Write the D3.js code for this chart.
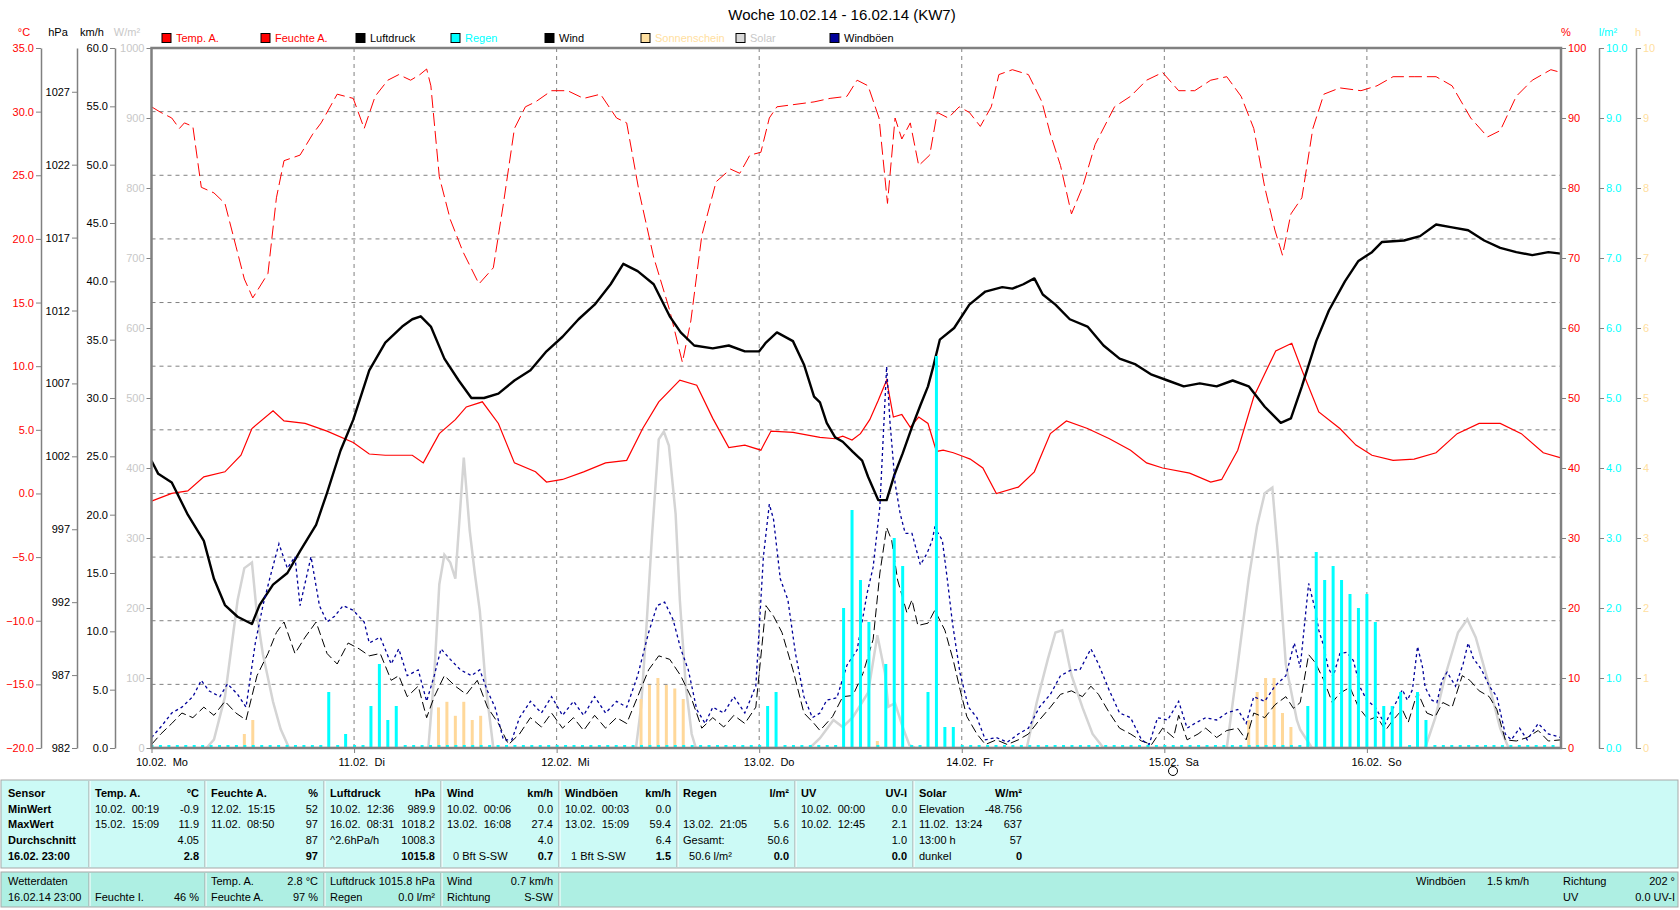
<!DOCTYPE html>
<html><head><meta charset="utf-8">
<script src="https://cdn.jsdelivr.net/npm/d3@7"></script>
<style>
body{margin:0;background:#fff;}
svg text{font-family:"Liberation Sans",Arial,sans-serif;font-size:11px;white-space:pre;}
</style></head><body>
<svg id="c" width="1680" height="910"></svg>
<script>
// ---------- DATA (hour offset from 10.02.14 00:00, value) ----------
const titleText = "Woche 10.02.14 - 16.02.14 (KW7)";
const dayTicks = [0, 24, 48, 72, 96, 120, 144];
const dayLabels = ["10.02.  Mo","11.02.  Di","12.02.  Mi","13.02.  Do","14.02.  Fr","15.02.  Sa","16.02.  So"];
const tempTicks = [-20,-15,-10,-5,0,5,10,15,20,25,30,35];
const hpaTicks = [982,987,992,997,1002,1007,1012,1017,1022,1027];
const kmhTicks = [0,5,10,15,20,25,30,35,40,45,50,55,60];
const solarTicks = [0,100,200,300,400,500,600,700,800,900,1000];
const humTicks = [0,10,20,30,40,50,60,70,80,90,100];
const rainTicks = [0,1,2,3,4,5,6,7,8,9,10];
const sunTicks = [0,1,2,3,4,5,6,7,8,9,10];

const tempSeries = [[0,-0.6],[2.4,0.0],[4.3,0.2],[6.2,1.3],[8.7,1.7],[10.6,3.0],[11.9,5.1],[14.4,6.5],[15.7,5.7],[18.2,5.5],[20.8,4.9],[23.9,4.0],[25.8,3.1],[27.7,3.0],[30.9,3.0],[32.2,2.4],[34.1,4.7],[36.0,5.8],[37.3,6.8],[39.2,7.2],[41.1,5.5],[43.0,2.4],[45.5,1.7],[46.8,0.9],[48.7,1.1],[51.2,1.7],[53.8,2.4],[56.3,2.6],[58.2,5.1],[60.1,7.2],[62.6,8.9],[64.6,8.5],[66.5,5.9],[68.4,3.6],[70.3,3.8],[72.2,3.4],[73.4,4.9],[76.0,4.8],[79.2,4.4],[81.0,4.3],[81.9,4.5],[83.0,4.2],[84.0,4.7],[85.1,5.8],[86.1,7.3],[87.1,8.9],[87.9,6.0],[88.9,6.2],[89.9,5.2],[90.9,6.0],[92.0,5.5],[93.0,3.3],[93.8,3.4],[95.0,3.2],[96.2,2.9],[97.0,2.7],[98.5,2.0],[100.1,0.0],[102.7,0.5],[104.6,1.7],[106.5,4.7],[108.4,5.7],[110.9,5.1],[113.5,4.3],[116.0,3.4],[117.9,2.4],[119.8,2.0],[123.0,1.6],[125.5,0.9],[126.8,1.1],[128.7,3.4],[130.6,7.6],[133.2,11.2],[135.1,11.8],[136.3,9.7],[138.3,6.4],[140.8,5.1],[142.7,3.8],[144.6,3.0],[147.1,2.6],[149.6,2.7],[152.2,3.2],[154.7,4.7],[157.3,5.5],[159.8,5.5],[162.3,4.7],[164.9,3.2],[167,2.8]];

const humSeries = [[0,91.6],[1.1,90.8],[2.4,90],[3.3,88.5],[3.9,89.3],[4.9,88.8],[5.9,80.1],[7.4,79.3],[8.7,77.8],[10.0,71.7],[11.0,67],[12.0,64.3],[13.8,67.8],[14.8,78.6],[15.7,83.9],[17.6,84.7],[19.1,87.7],[20.1,89.3],[22.0,93.4],[23.9,92.8],[25.2,88.5],[26.5,93.1],[28.0,95.4],[29.3,96.2],[30.7,95.4],[31.8,96.2],[32.6,97],[33.1,94.6],[34.1,81.6],[35.4,75.5],[36.9,70.9],[38.8,66.3],[40.5,68.6],[41.7,77.8],[43.0,88.5],[44.3,91.6],[45.5,92.3],[47.4,93.9],[49.3,93.9],[51.2,92.8],[53.2,93.4],[55.1,90],[56.3,89.3],[57.8,79.3],[59.5,70.1],[61.4,62.5],[62.9,55.1],[63.9,61],[65.2,73.2],[66.9,80.9],[68.6,82.7],[69.7,82.1],[70.9,84.7],[72.2,85.1],[73.2,90],[74.1,91.6],[76.0,91.9],[78.5,92.3],[80.4,92.8],[82.4,93.1],[83.6,95.4],[84.9,94.6],[86.2,90],[87.2,77.8],[88.1,90],[88.9,87],[89.9,89.3],[90.9,83.2],[92.2,84.7],[93.1,90.8],[94.4,90],[95.7,91.6],[96.9,90.8],[98.2,88.8],[99.5,91.6],[100.4,96.2],[102.0,96.9],[103.9,96.2],[105.5,92.3],[106.5,87.7],[107.7,83.2],[109.0,76.3],[110.3,80.1],[111.8,86.2],[114.1,91.6],[116.0,93.1],[117.9,95.4],[119.8,96.5],[121.7,93.9],[123.6,93.9],[125.5,95.4],[127.4,95.9],[129.1,93.1],[130.6,88.5],[131.9,80.1],[133.1,74],[134.0,70.4],[135.0,76.3],[136.3,78.6],[137.6,88.5],[138.9,93.4],[140.8,94.3],[143.3,93.9],[145.2,94.6],[147.1,95.9],[149.6,95.9],[152.2,95.9],[154.1,94.6],[156.3,90],[158.3,87.3],[159.8,88.2],[161.7,93.1],[163.6,95.4],[165.8,96.9],[167,96.5]];

const presSeries = [[0,1001.7],[0.8,1000.8],[2.4,1000.2],[4.3,998.0],[6.2,996.2],[7.4,993.6],[8.7,991.8],[10.2,991.0],[11.9,990.5],[12.8,991.8],[14.4,993.2],[16.1,994.0],[17.6,995.5],[19.5,997.3],[20.8,999.5],[22.4,1002.4],[23.9,1004.5],[25.8,1007.9],[27.7,1009.8],[29.7,1010.9],[30.9,1011.4],[31.9,1011.6],[33.1,1010.9],[34.7,1008.7],[36.4,1007.2],[37.9,1006.0],[39.4,1006.0],[41.1,1006.3],[43.0,1007.2],[44.9,1007.9],[46.8,1009.2],[48.7,1010.2],[50.6,1011.4],[52.5,1012.4],[54.4,1013.8],[55.9,1015.2],[57.6,1014.7],[59.5,1013.8],[61.4,1011.6],[62.7,1010.5],[64.3,1009.6],[66.5,1009.4],[68.4,1009.6],[70.3,1009.2],[72.0,1009.2],[72.8,1009.8],[74.1,1010.5],[76.0,1009.9],[77.3,1008.3],[78.5,1006.1],[79.2,1005.7],[80.0,1004.3],[81.0,1003.3],[81.9,1003.0],[83.1,1002.3],[84.2,1001.7],[84.9,1000.6],[86.1,999.0],[87.1,999.0],[88.0,1000.7],[89.0,1002.2],[90.1,1004.0],[91.1,1005.5],[92.0,1006.8],[92.6,1008.1],[93.4,1010.0],[95.1,1010.8],[96.9,1012.4],[98.8,1013.3],[100.8,1013.6],[102.0,1013.5],[103.3,1013.8],[104.6,1014.2],[105.6,1013.1],[107.1,1012.4],[108.8,1011.4],[110.9,1010.9],[112.8,1009.6],[114.7,1008.7],[116.6,1008.3],[118.5,1007.6],[120.4,1007.2],[122.3,1006.8],[124.2,1007.0],[126.2,1006.8],[128.1,1007.2],[130.0,1006.8],[131.9,1005.4],[133.8,1004.3],[135.0,1004.6],[136.3,1006.8],[138.0,1009.9],[139.5,1012.0],[141.4,1014.0],[143.0,1015.4],[144.6,1016.0],[145.8,1016.7],[148.4,1016.8],[150.3,1017.1],[152.2,1017.9],[154.1,1017.7],[156.0,1017.5],[157.9,1016.8],[159.8,1016.3],[161.7,1016.0],[163.6,1015.8],[165.5,1016.0],[167,1015.9]];

const windSeries = [[0,0.3],[1.1,1.2],[2.4,2.1],[3.6,3.0],[4.9,2.6],[6.2,3.5],[7.4,2.8],[8.7,4.0],[10.0,3.0],[11.2,2.4],[12.5,6.2],[13.8,8.1],[14.8,9.9],[15.7,10.8],[17.0,8.1],[18.2,9.5],[19.5,10.8],[20.8,8.1],[22.0,7.2],[23.3,9.0],[24.6,8.5],[25.8,7.9],[27.1,8.1],[28.4,5.8],[29.3,6.2],[30.3,4.4],[31.6,5.3],[32.6,2.6],[33.5,4.4],[34.7,6.2],[36.0,5.3],[37.3,4.6],[38.6,5.8],[39.8,3.5],[41.1,2.1],[42.3,0.3],[43.6,1.2],[44.9,2.6],[46.2,1.8],[47.4,3.0],[48.7,1.7],[50.0,2.6],[51.2,1.5],[52.5,2.8],[53.8,1.7],[55.1,2.6],[56.3,2.1],[57.6,4.4],[58.9,6.7],[60.1,7.9],[61.4,7.6],[62.7,6.2],[63.9,4.4],[65.2,1.7],[66.5,2.6],[67.8,1.8],[69.0,2.8],[70.3,2.1],[71.6,3.5],[72.8,12.2],[73.7,11.3],[74.7,9.9],[76.0,6.7],[77.3,3.0],[78.5,2.1],[79.2,1.5],[80.7,2.7],[81.9,4.4],[83.1,4.5],[84.3,6.4],[85.5,9.3],[86.3,15.0],[87.1,18.9],[87.7,17.8],[88.4,14.4],[89.5,11.6],[90.1,12.7],[90.8,10.5],[92.0,10.7],[92.8,11.8],[94.0,10.1],[95.0,7.5],[95.8,5.0],[96.6,2.7],[97.8,1.2],[98.8,0.3],[100.1,0.7],[101.4,0.3],[102.7,0.7],[103.9,1.2],[105.2,2.4],[106.5,3.5],[107.7,4.6],[109.0,4.9],[110.3,4.4],[111.3,5.3],[112.2,4.6],[113.5,3.0],[114.7,1.7],[116.0,1.2],[117.3,0.6],[118.5,0.3],[119.8,1.7],[121.1,0.9],[121.7,2.8],[122.7,0.7],[124.0,1.2],[124.9,1.7],[126.2,0.9],[127.4,1.5],[128.7,1.7],[129.7,0.7],[130.6,3.0],[131.9,2.6],[133.1,3.7],[134.4,4.4],[135.3,3.4],[136.1,3.9],[137.1,8.0],[137.9,7.3],[138.9,5.8],[139.9,3.9],[140.8,4.7],[142.0,5.2],[143.0,3.5],[144.2,2.4],[145.2,2.7],[146.2,1.5],[147.1,2.4],[148.2,3.3],[148.9,2.2],[150.0,4.8],[151.1,3.0],[152.1,2.7],[153.0,3.9],[154.1,3.5],[155.3,6.2],[156.2,5.8],[157.3,4.9],[158.5,4.4],[159.4,3.3],[160.4,0.7],[161.7,0.6],[163.0,0.9],[164.3,1.5],[165.5,0.6],[167,0.7]];

const gustSeries = [[0,0.9],[1.1,1.8],[2.4,3.0],[3.6,3.5],[4.9,4.4],[5.9,5.8],[6.8,4.9],[8.1,4.4],[9.0,5.5],[10.2,4.6],[11.2,3.5],[12.3,9.0],[13.2,12.2],[14.0,14.5],[15.1,17.5],[16.1,15.4],[17.0,16.4],[17.6,12.2],[18.9,16.4],[19.9,12.2],[20.8,10.8],[21.7,11.3],[22.7,12.2],[23.9,11.8],[25.2,10.8],[25.8,9.0],[27.1,9.5],[28.4,7.2],[29.3,8.5],[30.3,6.2],[31.6,6.7],[32.6,4.0],[33.5,6.2],[34.3,8.5],[35.4,7.6],[36.6,6.7],[37.9,6.2],[38.9,6.7],[39.8,4.9],[40.7,3.5],[41.7,0.7],[42.7,0.7],[43.6,2.6],[44.9,4.0],[46.2,3.0],[47.4,4.4],[48.7,2.8],[50.0,4.0],[51.2,2.8],[52.5,4.4],[53.8,3.0],[55.1,4.0],[56.3,3.5],[57.6,6.2],[58.9,9.9],[59.9,12.2],[60.8,12.5],[61.8,11.0],[62.7,8.5],[63.6,6.7],[64.6,3.3],[65.6,2.1],[66.5,3.5],[67.8,3.0],[69.0,4.4],[70.3,3.0],[71.6,5.3],[72.5,16.4],[73.2,20.9],[73.7,19.6],[74.5,14.5],[75.4,12.7],[76.3,8.1],[77.3,4.4],[78.3,2.6],[79.2,3.0],[80.0,4.1],[81.2,4.3],[82.4,7.1],[83.6,8.4],[84.8,13.3],[85.5,15.5],[86.3,20.7],[87.1,32.7],[87.5,27.9],[88.1,22.7],[88.7,20.1],[89.3,18.4],[90.1,18.4],[91.1,15.7],[91.9,16.7],[92.5,17.8],[92.8,18.9],[93.7,17.8],[94.3,14.4],[94.9,10.7],[95.8,6.4],[96.8,3.5],[97.8,2.6],[98.8,0.7],[100.1,0.9],[101.4,0.5],[102.7,1.2],[103.9,1.7],[105.2,3.5],[106.5,4.6],[107.7,6.2],[109.0,6.7],[110.0,6.7],[111.3,8.5],[112.2,7.2],[113.5,4.9],[114.7,3.0],[116.0,2.6],[117.3,0.7],[118.2,0.3],[119.2,2.6],[120.4,2.4],[121.7,4.0],[122.7,1.7],[123.6,2.1],[124.9,2.6],[126.2,2.4],[127.4,3.0],[128.7,3.3],[129.7,2.1],[130.6,4.4],[131.9,4.0],[133.1,5.3],[134.4,6.2],[135.4,9.0],[136.1,6.9],[137.1,14.1],[137.9,11.8],[138.3,10.1],[138.9,8.7],[139.4,6.9],[140.0,6.1],[140.8,8.1],[141.6,8.2],[142.4,7.5],[143.2,5.2],[144.0,4.1],[145.0,3.5],[145.6,2.7],[146.2,2.1],[146.8,3.0],[147.6,4.1],[148.2,5.0],[148.8,4.1],[149.4,5.0],[150.0,8.7],[150.6,6.9],[150.9,5.2],[151.7,4.1],[152.3,3.9],[152.9,5.8],[153.5,6.5],[154.5,5.3],[155.4,7.2],[156.0,9.0],[156.6,7.7],[157.6,6.7],[158.5,5.3],[159.4,4.4],[160.4,1.2],[161.1,0.7],[162.1,1.7],[163.0,0.7],[164.3,2.1],[165.5,1.2],[167,0.9]];

const solarSeries = [[0,0],[6.5,0],[7.4,12],[8.7,73],[10.2,211],[11.0,257],[11.9,265],[12.5,190],[13.2,134],[14.4,66],[15.3,27],[16.3,0],[32.8,0],[33.5,104],[34.1,234],[34.7,276],[35.4,265],[36.0,242],[36.4,311],[37.0,415],[37.7,311],[38.3,250],[38.9,196],[39.6,89],[40.5,0],[57.4,0],[58.0,58],[58.6,165],[59.3,303],[60.1,441],[60.7,452],[61.3,432],[62.1,334],[62.6,211],[63.3,89],[64.0,20],[64.5,0],[78.0,0],[79.2,14],[80.8,40],[81.9,30],[83.1,44],[84.9,79],[86.0,161],[86.9,107],[87.3,59],[88.1,64],[89.0,30],[89.8,4],[90.5,0],[103.7,0],[104.9,66],[106.2,127],[107.1,165],[107.9,168],[109.0,104],[110.3,58],[111.5,20],[112.8,0],[127.4,0],[128.7,119],[130.0,242],[131.0,318],[131.9,364],[132.8,372],[133.5,272],[134.4,119],[135.7,40],[136.1,26],[137.5,0],[150.9,0],[152.1,43],[153.3,104],[154.8,165],[155.9,184],[156.9,158],[158.5,89],[159.8,28],[160.8,0],[167,0]];

const rainSeries = [[21,0.8],[23,0.2],[26,0.6],[27,1.2],[28,0.4],[29,0.6],[73,0.6],[74,0.8],[82,2.0],[83,3.4],[84,2.4],[85,1.8],[87,1.2],[88,3.0],[89,2.6],[92,0.8],[93,5.6],[94,0.3],[95,0.3],[137,0.6],[138,2.8],[139,2.4],[140,2.6],[141,2.4],[142,2.2],[143,2.0],[144,2.2],[145,1.8],[146,0.6],[147,0.6],[148,0.8],[150,0.8],[151,0.4]];

const sunSeries = [[11,0.2],[12,0.4],[34,0.58],[35,0.66],[36,0.46],[37,0.66],[38,0.4],[39,0.46],[58,0.7],[59,0.9],[60,1.0],[61,0.9],[62,0.85],[63,0.7],[86,0.1],[130,0.4],[131,0.8],[132,1.0],[133,1.0],[134,0.5],[135,0.3]];

const legendNames = ["Temp. A.","Feuchte A.","Luftdruck","Regen","Wind","Sonnenschein","Solar","Windböen"];
const legendFill = ["#ff0000","#ff0000","#000000","#00ffff","#000000","#ffe0a0","#d8d8d8","#000099"];
const legendText = ["#ff0000","#ff0000","#000000","#00ffff","#000000","#ffe0a0","#c8c8c8","#000000"];

// table
const tblSensor = ["Sensor","MinWert","MaxWert","Durchschnitt","16.02. 23:00"];
const tblHeads = [["Temp. A.","°C"],["Feuchte A.","%"],["Luftdruck","hPa"],["Wind","km/h"],["Windböen","km/h"],["Regen","l/m²"],["UV","UV-I"],["Solar","W/m²"]];
const tblRows = [
 [["10.02.  00:19","-0.9"],["15.02.  15:09","11.9"],["","4.05"],["","2.8"]],
 [["12.02.  15:15","52"],["11.02.  08:50","97"],["","87"],["","97"]],
 [["10.02.  12:36","989.9"],["16.02.  08:31","1018.2"],["^2.6hPa/h","1008.3"],["","1015.8"]],
 [["10.02.  00:06","0.0"],["13.02.  16:08","27.4"],["","4.0"],["  0 Bft S-SW","0.7"]],
 [["10.02.  00:03","0.0"],["13.02.  15:09","59.4"],["","6.4"],["  1 Bft S-SW","1.5"]],
 [["",""],["13.02.  21:05","5.6"],["Gesamt:","50.6"],["  50.6 l/m²","0.0"]],
 [["10.02.  00:00","0.0"],["10.02.  12:45","2.1"],["","1.0"],["","0.0"]],
 [["Elevation","-48.756"],["11.02.  13:24","637"],["13:00 h","57"],["dunkel","0"]]
];
const lowRows = [
 [["Wetterdaten",""],["16.02.14 23:00",""]],
 [["",""],["Feuchte I.","46 %"]],
 [["Temp. A.","2.8 °C"],["Feuchte A.","97 %"]],
 [["Luftdruck","1015.8 hPa"],["Regen","0.0 l/m²"]],
 [["Wind","0.7 km/h"],["Richtung","S-SW"]]
];

// ---------- DRAW ----------
const svg = d3.select("#c");
const L = 151.5, R = 1561, T = 48, B = 748;
const FONT = "Liberation Sans, Arial, sans-serif";
const x = d3.scaleLinear().domain([0,167]).range([L,R]);
const yT = d3.scaleLinear().domain([-20,35]).range([B,T]);
const yH = d3.scaleLinear().domain([0,100]).range([B,T]);
const yP = d3.scaleLinear().domain([982,1030]).range([B,T]);
const yW = d3.scaleLinear().domain([0,60]).range([B,T]);
const yS = d3.scaleLinear().domain([0,1000]).range([B,T]);
const yR = d3.scaleLinear().domain([0,10]).range([B,T]);
const ySun = d3.scaleLinear().domain([0,10]).range([B,T]);

svg.append("rect").attr("width",1680).attr("height",910).attr("fill","#fff");

// title
svg.append("text").attr("x",842).attr("y",20).attr("text-anchor","middle")
  .style("font-size","15px").attr("fill","#000").text(titleText);

// legend
const legX = [162,261,356,451,545,641,736,830];
legendNames.forEach((n,i)=>{
  svg.append("rect").attr("x",legX[i]).attr("y",33.5).attr("width",9).attr("height",9)
    .attr("fill",legendFill[i]).attr("stroke","#000").attr("stroke-width",1);
  svg.append("text").attr("x",legX[i]+14).attr("y",42).attr("fill",legendText[i]).text(n);
});

// unit labels
const units = [["°C",24,"#ff0000"],["hPa",58,"#000"],["km/h",92,"#000"],["W/m²",127,"#c8c8c8"],["%",1566,"#ff0000"],["l/m²",1608,"#00ffff"],["h",1638,"#ffe0a0"]];
units.forEach(u=>svg.append("text").attr("x",u[1]).attr("y",36).attr("text-anchor","middle").attr("fill",u[2]).text(u[0]));

// grid
const grid = svg.append("g");
grid.selectAll("line.h").data(tempTicks.slice(1,-1)).enter().append("line")
  .attr("x1",L).attr("x2",R).attr("y1",d=>yT(d)).attr("y2",d=>yT(d))
  .attr("stroke","#808080").attr("stroke-dasharray","4,4");
grid.selectAll("line.v").data(dayTicks.slice(1)).enter().append("line")
  .attr("x1",d=>x(d)).attr("x2",d=>x(d)).attr("y1",T).attr("y2",B)
  .attr("stroke","#808080").attr("stroke-dasharray","4,4");

// axes
function styleAxis(g, txtColor, showDomain){
  g.attr("font-size",11).attr("font-family",FONT);
  g.select("path.domain").attr("stroke", showDomain ? "#808080" : "none").attr("stroke-width",1.5);
  g.selectAll(".tick line").attr("stroke","#808080");
  g.selectAll(".tick text").attr("fill",txtColor);
}
styleAxis(svg.append("g").attr("transform","translate(41,0)")
  .call(d3.axisLeft(yT).tickValues(tempTicks).tickFormat(d3.format(".1f")).tickSize(5).tickSizeOuter(0).tickPadding(2)),"#ff0000",true);
styleAxis(svg.append("g").attr("transform","translate(77,0)")
  .call(d3.axisLeft(yP).tickValues(hpaTicks).tickFormat(d3.format("d")).tickSize(5).tickSizeOuter(0).tickPadding(2)),"#000",true);
styleAxis(svg.append("g").attr("transform","translate(115,0)")
  .call(d3.axisLeft(yW).tickValues(kmhTicks).tickFormat(d3.format(".1f")).tickSize(5).tickSizeOuter(0).tickPadding(2)),"#000",true);
styleAxis(svg.append("g").attr("transform",`translate(${L},0)`)
  .call(d3.axisLeft(yS).tickValues(solarTicks).tickFormat(d3.format("d")).tickSize(5).tickSizeOuter(0).tickPadding(2)),"#c8c8c8",false);
styleAxis(svg.append("g").attr("transform",`translate(${R},0)`)
  .call(d3.axisRight(yH).tickValues(humTicks).tickFormat(d3.format("d")).tickSize(5).tickSizeOuter(0).tickPadding(2)),"#ff0000",false);
styleAxis(svg.append("g").attr("transform","translate(1599,0)")
  .call(d3.axisRight(yR).tickValues(rainTicks).tickFormat(d3.format(".1f")).tickSize(5).tickSizeOuter(0).tickPadding(2)),"#00ffff",true);
styleAxis(svg.append("g").attr("transform","translate(1636,0)")
  .call(d3.axisRight(ySun).tickValues(sunTicks).tickFormat(d3.format("d")).tickSize(5).tickSizeOuter(0).tickPadding(2)),"#ffe0a0",true);

const xa = svg.append("g").attr("transform",`translate(0,${B})`)
  .call(d3.axisBottom(x).tickValues(dayTicks).tickFormat((d,i)=>dayLabels[i]).tickSize(5).tickSizeOuter(0).tickPadding(5));
styleAxis(xa,"#000",false);
xa.selectAll(".tick text").attr("text-anchor","start").attr("x",-16);

// clip
svg.append("clipPath").attr("id","clip").append("rect").attr("x",L).attr("y",T-2).attr("width",R-L).attr("height",B-T+2);
const plot = svg.append("g").attr("clip-path","url(#clip)");
const mk = ys => d3.line().x(d=>x(d[0])).y(d=>ys(d[1]));

// solar
plot.append("path").datum(solarSeries).attr("d",mk(yS)).attr("fill","none").attr("stroke","#d4d4d4").attr("stroke-width",2.5);
// sunshine bars
plot.selectAll("rect.sun").data(sunSeries).enter().append("rect")
  .attr("x",d=>x(d[0])-1.5).attr("width",3).attr("y",d=>ySun(d[1])).attr("height",d=>B-ySun(d[1]))
  .attr("fill","#ffd89a");
// humidity
plot.append("path").datum(humSeries).attr("d",mk(yH)).attr("fill","none").attr("stroke","#ff0000").attr("stroke-width",1).attr("stroke-dasharray","13,5");
// temperature
plot.append("path").datum(tempSeries).attr("d",mk(yT)).attr("fill","none").attr("stroke","#ff0000").attr("stroke-width",1.2);
// pressure
plot.append("path").datum(presSeries).attr("d",mk(yP)).attr("fill","none").attr("stroke","#000").attr("stroke-width",2.4).attr("stroke-linejoin","round");
// wind
plot.append("path").datum(windSeries).attr("d",mk(yW)).attr("fill","none").attr("stroke","#000").attr("stroke-width",1).attr("stroke-dasharray","9,4");
// gusts
plot.append("path").datum(gustSeries).attr("d",mk(yW)).attr("fill","none").attr("stroke","#000099").attr("stroke-width",1.3).attr("stroke-dasharray","3,3");
// rain zero markers
const rainHours = new Set(rainSeries.map(d=>d[0]));
plot.selectAll("rect.rz").data(d3.range(0,168).filter(h=>!rainHours.has(h))).enter().append("rect")
  .attr("x",h=>x(h)-1).attr("width",3).attr("y",B-3).attr("height",3).attr("fill","#00ffff");
// rain bars
plot.selectAll("rect.rain").data(rainSeries).enter().append("rect")
  .attr("x",d=>x(d[0])-1.5).attr("width",3).attr("y",d=>yR(d[1])).attr("height",d=>B-yR(d[1]))
  .attr("fill","#00ffff");

// plot border
svg.append("rect").attr("x",L).attr("y",T).attr("width",R-L).attr("height",B-T)
  .attr("fill","none").attr("stroke","#808080").attr("stroke-width",2.5);

// moon symbol
svg.append("circle").attr("cx",1173).attr("cy",771).attr("r",4.5).attr("fill","#fff").attr("stroke","#000").attr("stroke-width",1);

// ---------- TABLE ----------
const up = {y0:780, y1:868}, lo = {y0:872, y1:907};
svg.append("rect").attr("x",1).attr("y",up.y0).attr("width",1677).attr("height",up.y1-up.y0).attr("fill","#ccfaf6").attr("stroke","#a8a8a8");
svg.append("rect").attr("x",1).attr("y",lo.y0).attr("width",1677).attr("height",lo.y1-lo.y0).attr("fill","#aeefe3").attr("stroke","#a8a8a8");
const colX = [0,89,205,324,441,559,677,795,913];
const colR = [199,318,435,553,671,789,907,1022];
colX.slice(1).forEach(cx=>{
  svg.append("line").attr("x1",cx).attr("x2",cx).attr("y1",up.y0+1).attr("y2",up.y1-1).attr("stroke","#a0a0a0");
  svg.append("line").attr("x1",cx+1).attr("x2",cx+1).attr("y1",up.y0+1).attr("y2",up.y1-1).attr("stroke","#fff");
});
[89,205,324,441,559].forEach(cx=>{
  svg.append("line").attr("x1",cx).attr("x2",cx).attr("y1",lo.y0+1).attr("y2",lo.y1-1).attr("stroke","#a0a0a0");
  svg.append("line").attr("x1",cx+1).attr("x2",cx+1).attr("y1",lo.y0+1).attr("y2",lo.y1-1).attr("stroke","#fff");
});
const rowY = [797,813,828,844,860];
const tg = svg.append("g").attr("fill","#000");
function txt(xp,yp,s,anchor,bold){
  tg.append("text").attr("x",xp).attr("y",yp).attr("text-anchor",anchor||"start")
    .attr("font-weight",bold?"bold":"normal").text(s);
}
tblSensor.forEach((s,i)=>txt(8,rowY[i],s,"start",true));
tblHeads.forEach((h,c)=>{
  txt(colX[c+1]+6,rowY[0],h[0],"start",true);
  txt(colR[c],rowY[0],h[1],"end",true);
  tblRows[c].forEach((r,i)=>{
    txt(colX[c+1]+6,rowY[i+1],r[0],"start",false);
    txt(colR[c],rowY[i+1],r[1],"end",i===3);
  });
});
const lowY = [885,901];
lowRows.forEach((col,c)=>{
  const lx = c===0 ? 8 : colX[c]+6;
  col.forEach((r,i)=>{
    txt(lx,lowY[i],r[0],"start",false);
    if(r[1]) txt(colR[c-1],lowY[i],r[1],"end",false);
  });
});
txt(1416,lowY[0],"Windböen","start",false);
txt(1487,lowY[0],"1.5 km/h","start",false);
txt(1563,lowY[0],"Richtung","start",false);
txt(1675,lowY[0],"202 °","end",false);
txt(1563,lowY[1],"UV","start",false);
txt(1675,lowY[1],"0.0 UV-I","end",false);
</script>
</body></html>
